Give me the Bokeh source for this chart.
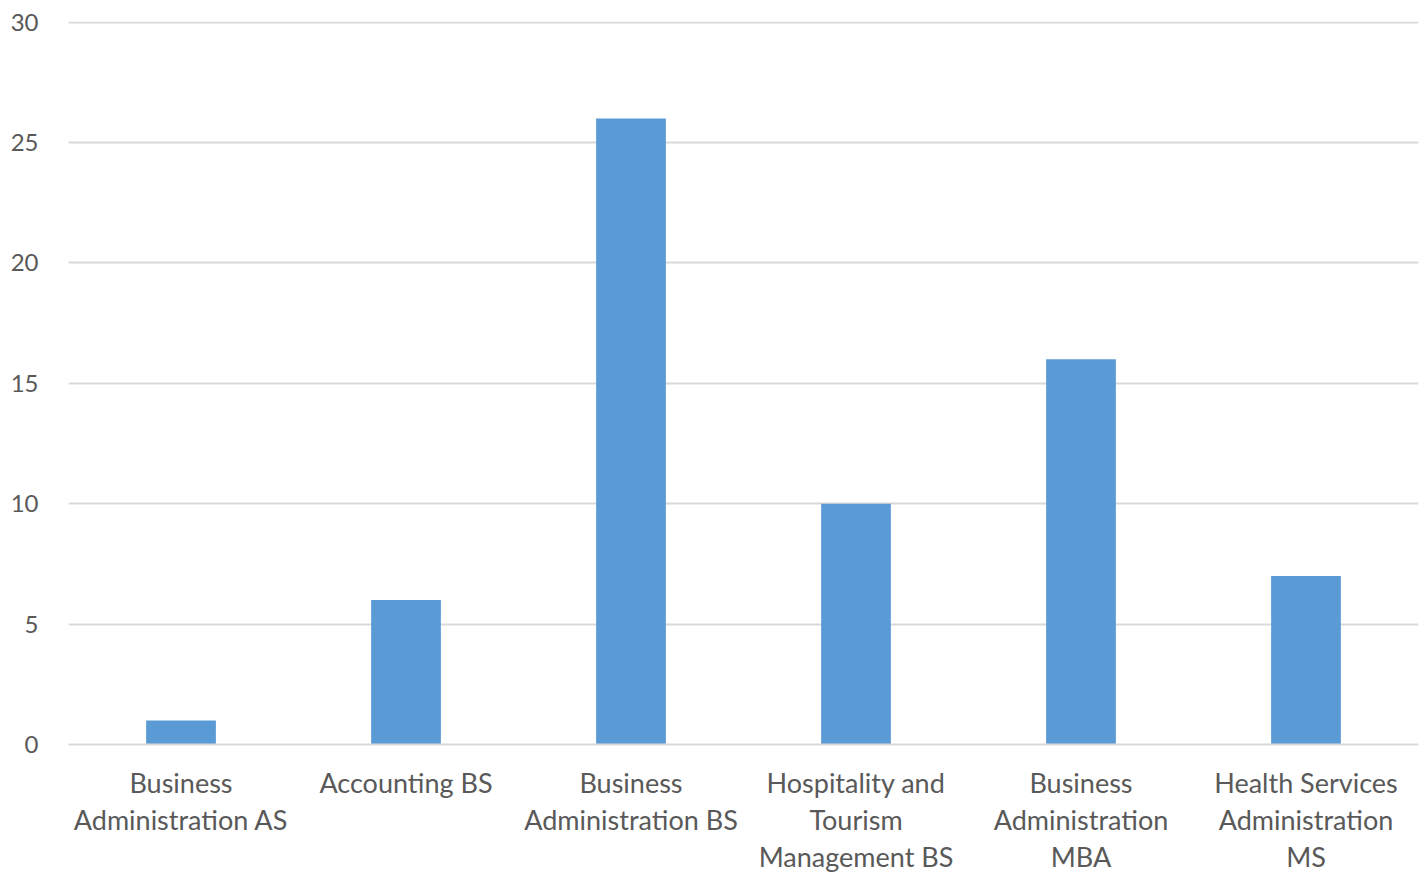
from bokeh.plotting import figure
from bokeh.models import (ColumnDataSource, Range1d, FactorRange, SingleIntervalTicker,
                          CategoricalAxis, CustomJSTickFormatter)
from bokeh.embed import file_html
from bokeh.resources import INLINE

categories = ["Business Administration AS", "Accounting BS", "Business Administration BS",
              "Hospitality and Tourism Management BS", "Business Administration MBA",
              "Health Services Administration MS"]
label_line1 = ["Business", "Accounting BS", "Business", "Hospitality and", "Business", "Health Services"]
label_line2 = ["Administration AS", "", "Administration BS", "Tourism", "Administration", "Administration"]
label_line3 = ["", "", "", "Management BS", "MBA", "MS"]
values = [1, 6, 26, 10, 16, 7]

src = ColumnDataSource(dict(cat=categories, val=values))

p = figure(width=1419, height=875, output_backend="svg", toolbar_location=None,
           x_range=FactorRange(*categories, range_padding=0), y_range=Range1d(0, 30.03),
           min_border_left=68, min_border_right=1, min_border_top=21, min_border_bottom=129)
p.outline_line_color = None
p.vbar(x="cat", top="val", width=0.31, source=src, fill_color="#5B9BD5", line_color=None)

font = "Lato"
grey = "#595959"
p.yaxis.ticker = SingleIntervalTicker(interval=5)
p.yaxis.axis_line_color = None
p.yaxis.major_tick_line_color = None
p.yaxis.minor_tick_line_color = None
p.yaxis.major_label_text_font = font
p.yaxis.major_label_text_font_size = "24px"
p.yaxis.major_label_text_color = grey
p.yaxis.major_label_standoff = 24

JS = "const i = cats.indexOf(tick); return i >= 0 ? lines[i] : '';"


def style_x(ax, lines, standoff):
    ax.major_tick_line_color = None
    ax.minor_tick_line_color = None
    ax.formatter = CustomJSTickFormatter(args=dict(cats=categories, lines=lines), code=JS)
    ax.major_label_text_font = font
    ax.major_label_text_font_size = "27px"
    ax.major_label_text_color = grey
    ax.major_label_text_line_height = 1.0
    ax.major_label_standoff = standoff


style_x(p.xaxis[0], label_line1, 15)
p.xaxis[0].axis_line_color = "#D9D9D9"
p.xaxis[0].axis_line_width = 2

for lines in (label_line2, label_line3):
    ax = CategoricalAxis(axis_line_color=None)
    style_x(ax, lines, -5)
    p.add_layout(ax, "below")

p.xgrid.grid_line_color = None
p.ygrid.grid_line_color = "#D9D9D9"
p.ygrid.grid_line_width = 2

open("out.html", "w").write(file_html(p, INLINE))
